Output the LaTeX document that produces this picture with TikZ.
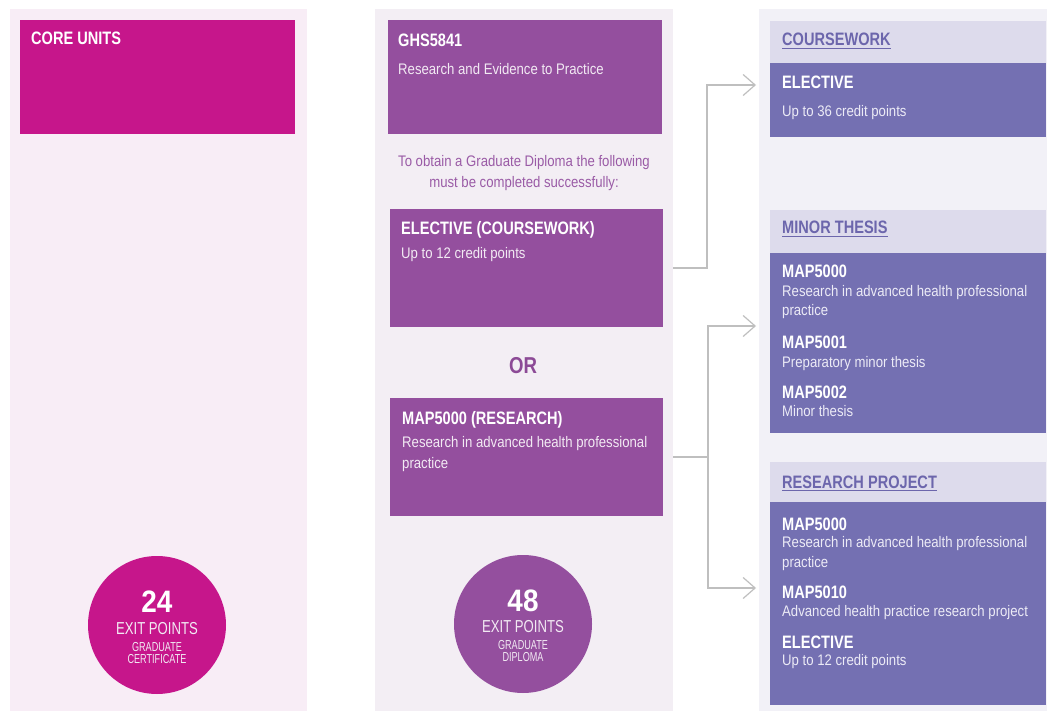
\documentclass[tikz,border=0pt]{standalone}
\usepackage{fontspec}
\setmainfont{Liberation Sans}
\newfontfamily\bodyf{Liberation Sans}[FakeStretch=0.86]
\newfontfamily\headf{Liberation Sans}[FakeStretch=0.81]
\newfontfamily\numf{Liberation Sans}[FakeStretch=0.9]
\newfontfamily\circf{Liberation Sans}[FakeStretch=0.76]
\newfontfamily\circs{Liberation Sans}[FakeStretch=0.7]
\usetikzlibrary{arrows.meta,calc}
\definecolor{colAbg}{HTML}{F8EDF6}
\definecolor{colBbg}{HTML}{F3EEF4}
\definecolor{colCbg}{HTML}{F2F1F7}
\definecolor{magc}{HTML}{C6168B}
\definecolor{purc}{HTML}{944F9E}
\definecolor{introc}{HTML}{9A5BA6}
\definecolor{orc}{HTML}{8C4A96}
\definecolor{bandc}{HTML}{DDDBEC}
\definecolor{hdc}{HTML}{6C66AC}
\definecolor{violc}{HTML}{7470B2}
\definecolor{connc}{HTML}{BFBFBF}
\definecolor{txtw}{HTML}{F2EAF3}
\definecolor{txtv}{HTML}{ECEBF6}
\tikzset{
  rect/.style={anchor=north west, inner sep=0pt, outer sep=0pt, draw=none},
  hd/.style={font=\headf\bfseries\fontsize{18}{20}\selectfont, anchor=base west, inner sep=0pt, text=white},
  bt/.style={font=\bodyf\fontsize{15.3}{18}\selectfont, anchor=base west, inner sep=0pt, text=txtw},
  btv/.style={bt, text=txtv},
  sect/.style={font=\headf\bfseries\fontsize{18}{20}\selectfont, anchor=base west, inner sep=0pt, text=hdc},
  intro/.style={font=\bodyf\fontsize{15.3}{18}\selectfont, anchor=base, inner sep=0pt, text=introc},
  bignum/.style={font=\numf\bfseries\fontsize{31}{33}\selectfont, anchor=base, inner sep=0pt, text=white},
  exitp/.style={font=\circf\fontsize{17.3}{19}\selectfont, anchor=base, inner sep=0pt, text=txtw},
  small/.style={font=\circs\fontsize{13}{14}\selectfont, anchor=base, inner sep=0pt, text=txtw},
  conn/.style={draw=connc, line width=1.2pt},
  arr/.style={conn, -{Straight Barb[length=12pt,width=21pt]}},
  uline/.style={draw=hdc, line width=0.9pt}
}
\begin{document}
\begin{tikzpicture}[x=1pt,y=-1pt]
\useasboundingbox (0,0) rectangle (1049,711);
\fill[white] (0,0) rectangle (1049,711);
% column backgrounds
\node[rect, fill=colAbg, minimum width=297pt, minimum height=702pt] (colA) at (10,9) {};
\node[rect, fill=colBbg, minimum width=298pt, minimum height=702pt] (colB) at (375,9) {};
\node[rect, fill=colCbg, minimum width=288pt, minimum height=702pt] (colC) at (759,9) {};
% column 1
\node[rect, fill=magc, minimum width=275pt, minimum height=114pt] (core) at (20,20) {};
\node[hd] (coret) at (31,45) {CORE UNITS};
\node[circle, fill=magc, minimum size=138pt, inner sep=0pt] (c1) at (157,625) {};
\node[bignum] (c1a) at (157,612) {24};
\node[exitp] (c1b) at (157,634) {EXIT POINTS};
\node[small] (c1c) at (157,651) {GRADUATE};
\node[small] (c1d) at (157,663) {CERTIFICATE};
% column 2
\node[rect, fill=purc, minimum width=274pt, minimum height=114pt] (ghs) at (388,20) {};
\node[hd] (ghsa) at (398,47) {GHS5841};
\node[bt] (ghsb) at (398,75) {Research and Evidence to Practice};
\node[intro] (in1) at (524,167) {To obtain a Graduate Diploma the following};
\node[intro] (in2) at (524,188) {must be completed successfully:};
\node[rect, fill=purc, minimum width=273pt, minimum height=118pt] (elec) at (390,209) {};
\node[hd] (eleca) at (401,235) {ELECTIVE (COURSEWORK)};
\node[bt] (elecb) at (401,259) {Up to 12 credit points};
\node[font=\headf\bfseries\fontsize{23}{25}\selectfont, text=orc, anchor=base, inner sep=0pt] (or) at (523,373) {OR};
\node[rect, fill=purc, minimum width=273pt, minimum height=118pt] (map) at (390,398) {};
\node[hd] (mapa) at (402,424) {MAP5000 (RESEARCH)};
\node[bt] (mapb) at (402,447) {Research in advanced health professional};
\node[bt] (mapc) at (402,468) {practice};
\node[circle, fill=purc, minimum size=138pt, inner sep=0pt] (c2) at (523,624) {};
\node[bignum] (c2a) at (523,611) {48};
\node[exitp] (c2b) at (523,632) {EXIT POINTS};
\node[small] (c2c) at (523,649) {GRADUATE};
\node[small] (c2d) at (523,661) {DIPLOMA};
% column 3 : coursework
\node[rect, fill=bandc, minimum width=276pt, minimum height=42pt] (cwh) at (770,21) {};
\node[rect, fill=violc, minimum width=276pt, minimum height=74pt] (cwb) at (770,63) {};
\node[sect] (cwt) at (782,46) {COURSEWORK};
\draw[uline] ([yshift=-2.5pt]cwt.base west) -- ([yshift=-2.5pt]cwt.base east);
\node[hd] (cw1) at (782,89) {ELECTIVE};
\node[btv] (cw2) at (782,117) {Up to 36 credit points};
% minor thesis
\node[rect, fill=bandc, minimum width=276pt, minimum height=43pt] (mth) at (770,210) {};
\node[rect, fill=violc, minimum width=276pt, minimum height=180pt] (mtb) at (770,253) {};
\node[sect] (mtt) at (782,234) {MINOR THESIS};
\draw[uline] ([yshift=-2.5pt]mtt.base west) -- ([yshift=-2.5pt]mtt.base east);
\node[hd] (mt1) at (782,278) {MAP5000};
\node[btv] (mt2) at (782,296) {Research in advanced health professional};
\node[btv] (mt3) at (782,316) {practice};
\node[hd] (mt4) at (782,348) {MAP5001};
\node[btv] (mt5) at (782,367) {Preparatory minor thesis};
\node[hd] (mt6) at (782,398) {MAP5002};
\node[btv] (mt7) at (782,416) {Minor thesis};
% research project
\node[rect, fill=bandc, minimum width=276pt, minimum height=40pt] (rph) at (770,462) {};
\node[rect, fill=violc, minimum width=276pt, minimum height=203pt] (rpb) at (770,502) {};
\node[sect] (rpt) at (782,488) {RESEARCH PROJECT};
\draw[uline] ([yshift=-2.5pt]rpt.base west) -- ([yshift=-2.5pt]rpt.base east);
\node[hd] (rp1) at (782,530) {MAP5000};
\node[btv] (rp2) at (782,547) {Research in advanced health professional};
\node[btv] (rp3) at (782,567) {practice};
\node[hd] (rp4) at (782,598) {MAP5010};
\node[btv] (rp5) at (782,616) {Advanced health practice research project};
\node[hd] (rp6) at (782,648) {ELECTIVE};
\node[btv] (rp7) at (782,665) {Up to 12 credit points};
% connectors
\coordinate (t1) at (756,85);
\coordinate (t2) at (756,326);
\coordinate (t3) at (756,588);
\draw[arr] (colB.east |- elec.center) -- ++(34,0) |- (t1);
\draw[conn] (colB.east |- map.center) -- ++(35,0) coordinate (fork);
\draw[arr] (fork) |- (t2);
\draw[arr] (fork) |- (t3);
\end{tikzpicture}
\end{document}
